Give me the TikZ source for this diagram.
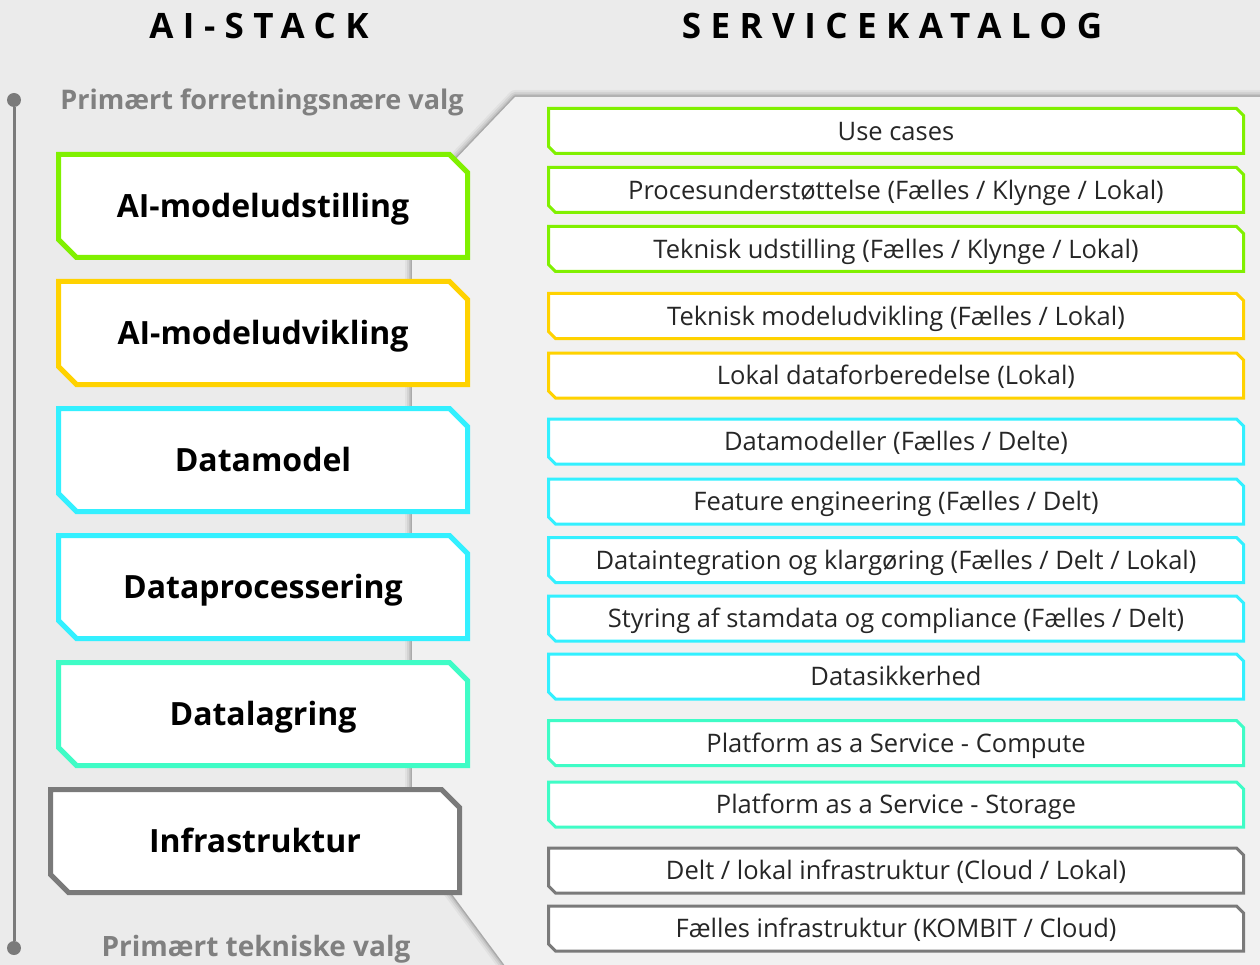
\documentclass[tikz,border=0pt]{standalone}
\usepackage{fontspec}
\setmainfont{Open Sans}
\newfontfamily\titlefont[LetterSpace=27]{Open Sans}
\usetikzlibrary{positioning}

\definecolor{stackgreen}{HTML}{80F000}
\definecolor{stackyellow}{HTML}{FFD200}
\definecolor{stackcyan}{HTML}{33F0FF}
\definecolor{stackteal}{HTML}{3FFCC6}
\definecolor{stackgray}{HTML}{7A7A7A}
\definecolor{bggray}{HTML}{EBEBEB}
\definecolor{panelgray}{HTML}{F1F1F1}
\definecolor{subgray}{HTML}{808080}

\pgfdeclarelayer{back}
\pgfdeclarelayer{background}
\pgfsetlayers{back,background,main}

% outline with two cut corners (north east, south west)
\newcommand{\cutbox}[3]{%
	\draw[#3] (#1.north west) -- ([xshift=-#2]#1.north east) -- ([yshift=-#2]#1.north east)
	-- (#1.south east) -- ([xshift=#2]#1.south west) -- ([yshift=#2]#1.south west) -- cycle;}

\begin{document}
\begin{tikzpicture}
		[x=1pt,y=-1pt,
		stack node/.style={shape=rectangle,minimum width=409pt,minimum height=103pt,inner sep=0pt,outer sep=0pt,text height=22.8pt,text depth=0pt,font=\fontsize{32}{38}\selectfont\bfseries},
		katalog node/.style={shape=rectangle,minimum width=695pt,minimum height=45pt,inner sep=0pt,outer sep=0pt,text height=18.2pt,text depth=0pt,text=black!85,font=\fontsize{25.5}{30}\selectfont},
		stack line/.style={line width=5pt,fill=white},
		katalog line/.style={line width=3pt,fill=white},
		title text/.style={font=\titlefont\bfseries\fontsize{35}{40}\selectfont},
		sub text/.style={text=subgray,font=\fontsize{27}{32}\selectfont\bfseries},
		dot/.style={shape=circle,fill=stackgray,inner sep=0pt,minimum size=14pt}
		]
		
		\useasboundingbox (0,0) rectangle (1260,965);
		
		% panel behind the catalogue
		\begin{pgfonlayer}{back}
		\fill[bggray] (0,0) rectangle (1260,965);
		\foreach \w/\o in {14/0.04,10/0.06,6/0.08,3/0.12}
		\draw[line width=\w pt,black,opacity=\o,line join=round] (412,205) -- (515,97) -- (1270,97) -- (1270,975) -- (512,975) -- (412,840) -- cycle;
		\fill[panelgray] (412,205) -- (515,97) -- (1270,97) -- (1270,975) -- (512,975) -- (412,840) -- cycle;
		\end{pgfonlayer}
		
		% titles
		\node [title text] (aistack) at (259,26) {AI-STACK};
		\node [title text] (katalog) at (892,26) {SERVICEKATALOG};
		
		% axis
		\node [dot] (top dot) at (14,100) {};
		\node [dot] (bottom dot) at (14,948) {};
		\draw[stackgray,line width=3pt] (top dot) -- (bottom dot);
		\node [sub text] (forretning) at (262,102) {Primært forretningsnære valg};
		\node [sub text,font=\fontsize{28}{32}\selectfont\bfseries] (teknisk) at (256,949) {Primært tekniske valg};
		
		% AI-stack
		\node [stack node] (udstilling) at (263,206) {AI-modeludstilling};
		\node [stack node] (udvikling) at (263,333) {AI-modeludvikling};
		\node [stack node] (datamodel) at (263,460) {Datamodel};
		\node [stack node] (processering) at (263,587) {Dataprocessering};
		\node [stack node] (lagring) at (263,714) {Datalagring};
		\node [stack node] (infra) at (255,841) {Infrastruktur};
		
		% servicekatalog
		\node [katalog node] (k1) at (896,131) {Use cases};
		\node [katalog node] (k2) at (896,190) {Procesunderstøttelse (Fælles / Klynge / Lokal)};
		\node [katalog node] (k3) at (896,249) {Teknisk udstilling (Fælles / Klynge / Lokal)};
		\node [katalog node] (k4) at (896,316) {Teknisk modeludvikling (Fælles / Lokal)};
		\node [katalog node] (k5) at (896,375.5) {Lokal dataforberedelse (Lokal)};
		\node [katalog node] (k6) at (896,441.5) {Datamodeller (Fælles / Delte)};
		\node [katalog node] (k7) at (896,501.5) {Feature engineering (Fælles / Delt)};
		\node [katalog node] (k8) at (896,560) {Dataintegration og klargøring (Fælles / Delt / Lokal)};
		\node [katalog node] (k9) at (896,618.5) {Styring af stamdata og compliance (Fælles / Delt)};
		\node [katalog node] (k10) at (896,676.5) {Datasikkerhed};
		\node [katalog node] (k11) at (896,743) {Platform as a Service - Compute};
		\node [katalog node] (k12) at (896,804.5) {Platform as a Service - Storage};
		\node [katalog node] (k13) at (896,870.5) {Delt / lokal infrastruktur (Cloud / Lokal)};
		\node [katalog node] (k14) at (896,928.5) {Fælles infrastruktur (KOMBIT / Cloud)};
		
		\begin{pgfonlayer}{background}
		\foreach \n/\c in {udstilling/stackgreen,udvikling/stackyellow,datamodel/stackcyan,processering/stackcyan,lagring/stackteal,infra/stackgray}
		{\cutbox{\n}{18pt}{stack line,draw=\c}}
		\foreach \n/\c in {k1/stackgreen,k2/stackgreen,k3/stackgreen,k4/stackyellow,k5/stackyellow,k6/stackcyan,k7/stackcyan,k8/stackcyan,k9/stackcyan,k10/stackcyan,k11/stackteal,k12/stackteal,k13/stackgray,k14/stackgray}
		{\cutbox{\n}{7pt}{katalog line,draw=\c}}
		\end{pgfonlayer}
		
\end{tikzpicture}
\end{document}
